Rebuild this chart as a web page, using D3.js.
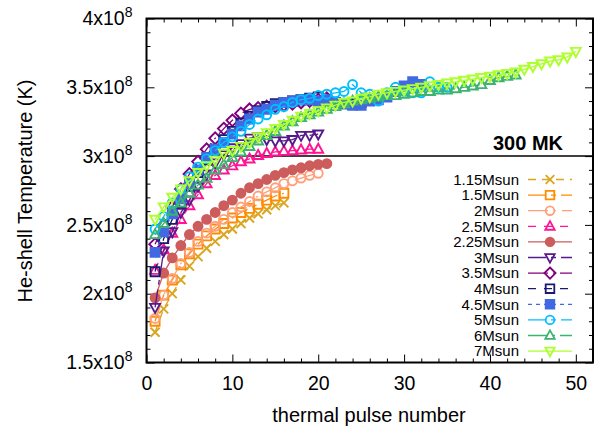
<!DOCTYPE html>
<html>
<head>
<meta charset="utf-8">
<title>He-shell temperature</title>
<script src="https://d3js.org/d3.v7.min.js"></script>
<style>
  body { margin: 0; background: #fff; }
  svg text { font-family: "Liberation Sans", Arial, sans-serif; }
</style>
</head>
<body>
<svg width="608" height="432"></svg>
<script>
// temperatures in MK, one value per thermal pulse (starting at pulse 1)
var t115 = [172, 189, 200, 210, 220, 227, 233, 238, 243, 247, 251, 255, 258, 261, 264, 266];
var t15  = [180, 199, 210, 221, 229, 236, 242, 247, 251, 255, 259, 262, 265, 268, 271, 273];
var t2   = [182, 199, 211, 222, 230, 238, 244, 249, 254, 259, 263, 267, 271, 274, 277, 280, 282, 284, 286, 287.5];
var t25  = [217, 232, 244, 254, 264, 272, 280, 286, 290, 293, 296, 298, 300.5, 302, 303, 303.5, 304, 304.5, 305, 305];
var t225 = [197, 215, 226, 235, 243, 249, 254, 259, 264, 268, 273, 277, 280, 283, 286, 288, 290, 291.5, 293, 294, 294.5];
var t3   = [190, 231, 245, 259, 268, 278, 287, 295, 301, 306, 309, 313, 314, 312, 311, 311, 312, 315, 315, 316];
var t35  = [236, 250, 263, 276, 287, 296, 305, 313, 320, 326, 331, 334, 335, 336, 336, 337, 338, 339, 340, 341, 342];
var t4   = [216, 240, 254, 266, 278, 288, 297, 305, 312, 318, 324, 329, 333, 336, 338, 339, 340, 341, 342, 343, 341, 339, 338, 338, 339];
var t45  = [230, 245, 258, 269, 280, 290, 299, 305, 310, 316, 322, 327, 332, 334, 337, 339, 340, 341, 341, 340, 341, 339, 338, 337, 337, 340, 341, 343, 347, 351, 354, 352];
var t5   = [247, 256, 266, 276, 285, 292, 298, 304, 310, 314, 318, 323, 327, 330, 334, 336, 339, 341, 342, 344, 345, 346, 347, 352, 346, 345, 340, 346, 350, 347, 346, 346, 354, 350, 350];
var t6   = [243, 251, 260, 266, 273, 279, 284, 290, 294, 299, 303, 307, 311, 315, 318, 322, 325, 328, 330, 332, 334, 336, 338, 340, 341, 342, 343, 344, 344, 345, 346, 347, 347, 348, 348, 349, 350, 351, 352, 355, 357, 358, 359];
var t7   = [254, 263, 270, 276, 282, 288, 293, 297, 302, 304, 307, 310, 314, 317, 320, 323, 326, 329, 331, 333, 335, 337, 339, 340, 342, 343, 345, 346, 347, 348, 349, 350, 351, 352, 353, 354, 355, 356, 357, 358, 359, 360, 361, 363, 365, 367, 369, 370, 372, 376];

var names  = ["1.15Msun","1.5Msun","2Msun","2.5Msun","2.25Msun","3Msun","3.5Msun","4Msun","4.5Msun","5Msun","6Msun","7Msun"];
var values = [t115, t15, t2, t25, t225, t3, t35, t4, t45, t5, t6, t7];
var colors = ["#daa520","#ff8c00","#ffa07a","#ff1493","#cd5c5c","#551a8b","#800080","#191970","#4169e1","#00bfff","#3cb371","#adff2f"];
var shapes = ["x","sq","circ","tri","dot","tridown","diamond","sq","sqfill","circ","tri","tridown"];
var dashes = ["8,6","18,5,5,5","20,6,2,6","8,8",null,"18,5,5,5","20,5,2,5","8,8","4,4","18,5,5,5","20,5,2,5",null];

var xTicks = [0,10,20,30,40,50];
var yTicks = [1.5e8, 2e8, 2.5e8, 3e8, 3.5e8, 4e8];
var limitK = 3e8;

var svg = d3.select("svg");
var L = 146.5, R = 593, T = 18.5, B = 362.5;

var x = d3.scaleLinear().domain([0,52]).range([L,R]);
var y = d3.scaleLinear().domain([1.5e8,4e8]).range([B,T]);

// axes, ticks inward and mirrored
var xMinor = d3.range(0,53,2).filter(function(v){return v%10;});
var gx = svg.append("g").attr("transform","translate(0,"+B+")")
  .call(d3.axisBottom(x).tickValues(xTicks).tickSizeInner(-8).tickSizeOuter(0).tickPadding(14));
svg.append("g").attr("transform","translate(0,"+B+")")
  .call(d3.axisBottom(x).tickValues(xMinor).tickSizeInner(-4).tickSizeOuter(0).tickFormat(""));
svg.append("g").attr("transform","translate(0,"+T+")")
  .call(d3.axisTop(x).tickValues(xTicks).tickSizeInner(-8).tickSizeOuter(0).tickFormat(""));
svg.append("g").attr("transform","translate(0,"+T+")")
  .call(d3.axisTop(x).tickValues(xMinor).tickSizeInner(-4).tickSizeOuter(0).tickFormat(""));

var yMinor = d3.range(15,41).map(function(v){return v*1e7;}).filter(function(v){return Math.round(v/1e7)%5;});
var gy = svg.append("g").attr("transform","translate("+L+",0)")
  .call(d3.axisLeft(y).tickValues(yTicks).tickSizeInner(-8).tickSizeOuter(0).tickPadding(14));
svg.append("g").attr("transform","translate("+L+",0)")
  .call(d3.axisLeft(y).tickValues(yMinor).tickSizeInner(-4).tickSizeOuter(0).tickFormat(""));
svg.append("g").attr("transform","translate("+R+",0)")
  .call(d3.axisRight(y).tickValues(yTicks).tickSizeInner(-8).tickSizeOuter(0).tickFormat(""));
svg.append("g").attr("transform","translate("+R+",0)")
  .call(d3.axisRight(y).tickValues(yMinor).tickSizeInner(-4).tickSizeOuter(0).tickFormat(""));

svg.selectAll(".domain").remove();
svg.selectAll(".tick line").attr("stroke","#000").attr("stroke-width",1);
gx.selectAll("text").attr("font-size",19.5).attr("fill","#000");
gy.selectAll("text").attr("font-size",19.5).attr("fill","#000")
  .text(function(d){ return (d/1e8)+"x10"; })
  .append("tspan").attr("dy",-8).attr("font-size",14).text("8");

// 300 MK line
svg.append("line")
  .attr("x1",L).attr("x2",R).attr("y1",y(limitK)).attr("y2",y(limitK))
  .attr("stroke","#000").attr("stroke-width",1.5);
svg.append("text").attr("x",563).attr("y",150).attr("text-anchor","end")
  .attr("font-size",20).attr("font-weight","bold").text("300 MK");

function marker(type, s){
  if(type=="x") return "M"+(-s)+","+(-s)+"L"+s+","+s+"M"+(-s)+","+s+"L"+s+","+(-s);
  if(type=="sq" || type=="sqfill") return "M"+(-s)+","+(-s)+"H"+s+"V"+s+"H"+(-s)+"Z";
  if(type=="circ" || type=="dot") return "M"+s+",0A"+s+","+s+" 0 1,1 "+(-s)+",0A"+s+","+s+" 0 1,1 "+s+",0Z";
  if(type=="tri") return "M0,"+(-s*1.2)+"L"+(s*1.1)+","+(s*0.8)+"L"+(-s*1.1)+","+(s*0.8)+"Z";
  if(type=="tridown") return "M0,"+(s*1.2)+"L"+(s*1.1)+","+(-s*0.8)+"L"+(-s*1.1)+","+(-s*0.8)+"Z";
  if(type=="diamond") return "M0,"+(-s*1.3)+"L"+(s*1.3)+",0L0,"+(s*1.3)+"L"+(-s*1.3)+",0Z";
}
function filled(type){ return type=="dot" || type=="sqfill"; }

var line = d3.line().x(function(d){return x(d.p);}).y(function(d){return y(d.t);});
var plot = svg.append("g");

values.forEach(function(arr,i){
  var pts = arr.map(function(t,j){ return {p:j+1, t:t*1e6}; });
  var g = plot.append("g");
  g.append("path").datum(pts).attr("d",line)
    .attr("fill","none").attr("stroke",colors[i]).attr("stroke-width",1.3)
    .attr("stroke-dasharray",dashes[i]);
  g.selectAll("path.m").data(pts).enter().append("path").attr("class","m")
    .attr("transform",function(d){return "translate("+x(d.p)+","+y(d.t)+")";})
    .attr("d",marker(shapes[i],4.5))
    .attr("fill",filled(shapes[i]) ? colors[i] : "none")
    .attr("stroke",colors[i]).attr("stroke-width",1.9);
});

// legend
var leg = svg.append("g");
names.forEach(function(n,i){
  var ly = 179.5 + i*15.6;
  leg.append("text").attr("x",519).attr("y",ly).attr("dy","0.35em")
    .attr("text-anchor","end").attr("font-size",15).text(n);
  leg.append("line").attr("x1",528).attr("x2",572).attr("y1",ly).attr("y2",ly)
    .attr("stroke",colors[i]).attr("stroke-width",1.3).attr("stroke-dasharray",dashes[i]);
  leg.append("path").attr("transform","translate(550,"+ly+")")
    .attr("d",marker(shapes[i],4.3))
    .attr("fill",filled(shapes[i]) ? colors[i] : "none")
    .attr("stroke",colors[i]).attr("stroke-width",1.8);
});

// frame
svg.append("rect").attr("x",L).attr("y",T).attr("width",R-L).attr("height",B-T)
  .attr("fill","none").attr("stroke","#000").attr("stroke-width",2);

// axis titles
svg.append("text").attr("x",369).attr("y",422).attr("text-anchor","middle")
  .attr("font-size",20).text("thermal pulse number");
svg.append("text").attr("transform","translate(32,191) rotate(-90)")
  .attr("text-anchor","middle").attr("font-size",20).text("He-shell Temperature (K)");
</script>
</body>
</html>
